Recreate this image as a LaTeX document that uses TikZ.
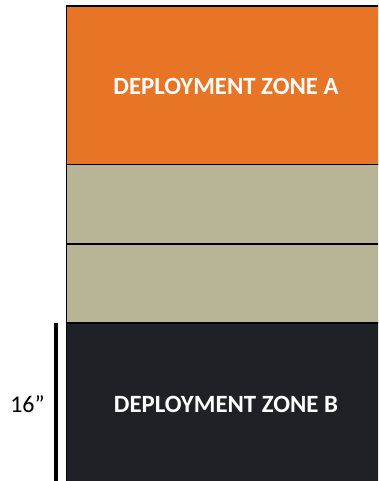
\documentclass[tikz,border=0pt]{standalone}
\usepackage{fontspec}
\setmainfont{Carlito}
\definecolor{zoneA}{HTML}{E87426}
\definecolor{midtan}{HTML}{B8B596}
\definecolor{zoneB}{HTML}{1E2226}
\tikzset{
  band/.style={draw=black, line width=1.2pt},
  zonelabel/.style={text=white, font=\fontsize{24.8}{28}\selectfont\bfseries},
}
\begin{document}
\begin{tikzpicture}[x=1pt,y=-1pt]
\useasboundingbox (0,0) rectangle (378,481);
\begin{scope}
\clip (0,0) rectangle (378,481);
\fill[zoneA] (66.5,6) rectangle (390,164.5);
\fill[midtan] (66.5,164.5) rectangle (390,323);
\fill[zoneB] (66.5,323) rectangle (390,490);
\draw[band] (390,6) -- (66.5,6) -- (66.5,490);
\draw[band] (66.5,164.5) -- (390,164.5);
\draw[band] (66.5,244) -- (390,244);
\draw[band] (66.5,323) -- (390,323);
\end{scope}
\node[zonelabel] (za) at (226,86) {DEPLOYMENT ZONE A};
\node[zonelabel] (zb) at (226,404) {DEPLOYMENT ZONE B};
\coordinate (bartop) at (56,323);
\coordinate (barbot) at (56,481);
\draw[line width=3.4pt] (bartop) -- (barbot);
\node[font=\fontsize{24}{28}\selectfont] (len) at (27.5,404) {16”};
\end{tikzpicture}
\end{document}
